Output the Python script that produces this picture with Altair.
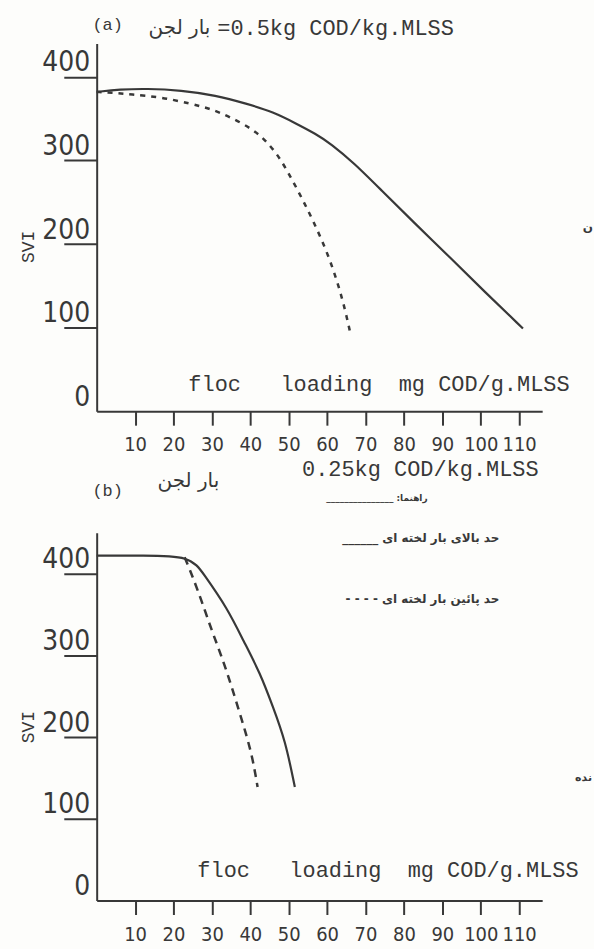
import altair as alt
import pandas as pd

# ---- data: SVI against floc loading (mg COD / g MLSS) ----
# panel (a): sludge loading 0.5 kg COD/kg MLSS
a_upper_x = [0, 6, 13, 22, 31, 39, 46, 52, 57, 61, 67, 74, 83, 92, 101, 111]
a_upper_y = [382, 385, 386, 384, 378, 368, 358, 344, 332, 320, 297, 265, 224, 184, 143, 99]
a_lower_x = [0, 4.4, 8.8, 16.6, 24.4, 29.6, 34.8, 40.8, 44.4, 47.8, 52.2, 56.4, 60.8, 64.2, 66.2]
a_lower_y = [382, 381, 379, 376, 368, 362, 352, 337, 322, 303, 266, 228, 182, 132, 90]

# panel (b): sludge loading 0.25 kg COD/kg MLSS
b_upper_x = [0, 12, 24.4, 27.8, 34.0, 38.2, 42.6, 45.9, 49.1, 51.6]
b_upper_y = [422, 422, 422, 400, 358, 318, 278, 237, 196, 139]
b_lower_x = [22.9, 24.7, 27.3, 30.0, 32.6, 35.2, 37.8, 40.4, 41.9]
b_lower_y = [420, 400, 367, 330, 298, 261, 221, 180, 139]

x_ticks = [10, 20, 30, 40, 50, 60, 70, 80, 90, 100, 110]
y_ticks = [0, 100, 200, 300, 400]

# ---- text ----
NB = "\u00a0"
label_a = "(a)"
label_b = "(b)"
load_fa = "بار لجن"
load_a = "=0.5kg COD/kg.MLSS"
load_b = "0.25kg COD/kg.MLSS"
x_caption = f"floc{NB*3}loading{NB*2}mg COD/g.MLSS"
y_caption = "SVI"
guide_title = "_______________ :راهنما"
guide_upper = "______ حد بالای بار لخته ای"
guide_lower = "- - - - حد پائین بار لخته ای"
edge_a = "ن"
edge_b = "نده"

INK = "#383838"
MONO = "Liberation Mono, Courier New, monospace"
NARROW = "Liberation Sans Narrow, DejaVu Sans Condensed, Arial Narrow, sans-serif"
ARABIC = "DejaVu Sans, Noto Sans, sans-serif"

W = 447
H = 369
one = pd.DataFrame({"k": [0]})


def label(text, x, y, font=MONO, size=17, align="left", angle=0, weight="normal"):
    return alt.Chart(one).mark_text(
        text=text, font=font, fontSize=size, align=align, baseline="middle",
        angle=angle, color=INK, fontWeight=weight,
    ).encode(x=alt.value(x), y=alt.value(y))


def panel(ux, uy, lx, ly, ymax, dash, xpad, extras):
    xs = alt.Scale(domain=[0, 116], nice=False, zero=False)
    ys = alt.Scale(domain=[0, ymax], nice=False, zero=True)
    xax = alt.Axis(
        values=x_ticks, title=None, grid=False, tickSize=14, tickWidth=2,
        tickColor=INK, domainColor=INK, domainWidth=2, labelPadding=xpad,
        labelFont=NARROW, labelFontSize=20, labelColor=INK, labelAngle=0,
        labelFlush=False, labelOverlap=False,
    )
    yax = alt.Axis(
        values=y_ticks, title=None, grid=False, tickSize=33, tickWidth=2,
        tickColor=INK, domainColor=INK, domainWidth=2,
        tickOpacity={"condition": {"test": "datum.value === 0", "value": 0}, "value": 1},
        labelAlign="right", labelBaseline="bottom", labelPadding=-26,
        labelFont=NARROW, labelFontSize=28, labelColor=INK,
    )
    up = pd.DataFrame({"x": ux, "y": uy})
    lo = pd.DataFrame({"x": lx, "y": ly})
    solid = alt.Chart(up).mark_line(
        color=INK, strokeWidth=2.2, interpolate="basis"
    ).encode(x=alt.X("x:Q", scale=xs, axis=xax), y=alt.Y("y:Q", scale=ys, axis=yax))
    dashed = alt.Chart(lo).mark_line(
        color=INK, strokeWidth=2.5, strokeDash=dash, interpolate="basis"
    ).encode(x=alt.X("x:Q", scale=xs, axis=xax), y=alt.Y("y:Q", scale=ys, axis=yax))
    return alt.layer(solid, dashed, *extras).properties(width=W, height=H)


# panel (a) plot origin sits at page (96, 41)
extras_a = [
    alt.Chart(one).mark_rect(opacity=0).encode(
        x=alt.value(-96), x2=alt.value(-95), y=alt.value(-41), y2=alt.value(-40)),
    label(label_a, 11, -19, size=17, align="center"),
    label(load_fa, 114, -15, font=ARABIC, size=20, align="right"),
    label(load_a, 121, -15, size=22),
    label(x_caption, 92, 342, size=22),
    label(y_caption, -68, 204, size=18, align="center", angle=270),
    label(edge_a, 498, 184, font=ARABIC, size=12, align="right", weight="bold"),
]

# panel (b) plot origin sits at page (96, 532)
extras_b = [
    alt.Chart(one).mark_rect(opacity=0).encode(
        x=alt.value(497), x2=alt.value(498), y=alt.value(416), y2=alt.value(417)),
    label(label_b, 11, -42, size=17, align="center"),
    label(load_fa, 92, -52, font=ARABIC, size=20, align="center"),
    label(load_b, 206, -64, size=22),
    label(guide_title, 332, -35, font=ARABIC, size=9, align="right", weight="bold"),
    label(guide_upper, 404, 5, font=ARABIC, size=12, align="right", weight="bold"),
    label(guide_lower, 404, 66, font=ARABIC, size=12, align="right", weight="bold"),
    label(x_caption, 101, 338, size=22),
    label(y_caption, -68, 195, size=18, align="center", angle=270),
    label(edge_b, 497, 246, font=ARABIC, size=11, align="right", weight="bold"),
]

chart_a = panel(a_upper_x, a_upper_y, a_lower_x, a_lower_y, 440, [5, 6], 9, extras_a)
chart_b = panel(b_upper_x, b_upper_y, b_lower_x, b_lower_y, 450, [8, 6], 10, extras_b)

chart = alt.vconcat(chart_a, chart_b, spacing=122, bounds="flush").properties(
    padding=0, background="#fdfdfb"
).configure_view(stroke="transparent")

chart.save("out.html", embed_options={"renderer": "svg", "actions": False})
